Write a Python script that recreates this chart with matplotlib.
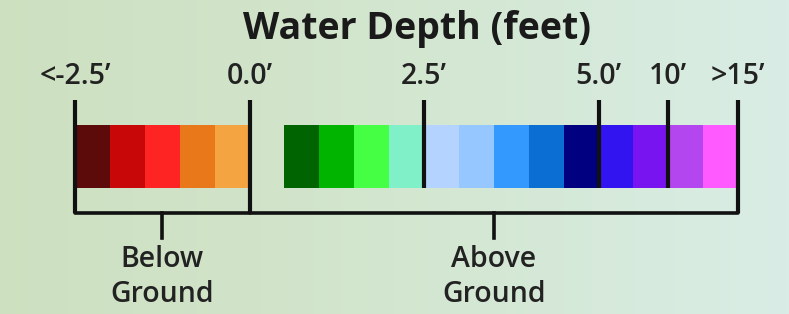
import numpy as np
import matplotlib.pyplot as plt
from matplotlib.colors import LinearSegmentedColormap

# colour bins of the legend, in slot units (one slot per colour)
below_colors = ['#5c0a0a', '#c80808', '#ff2424', '#e8781a', '#f5a442']
above_colors = ['#006400', '#00b400', '#44ff44', '#7ff0c8',
                '#b4d4ff', '#96c8ff', '#3399ff', '#0a6ed2', '#000080',
                '#3214f0', '#7814f0', '#b446f0', '#ff5aff']
below_start = 0
above_start = 6          # one empty slot after 0.0'

tick_slots = [0, 5, 10, 15, 17, 19]
tick_labels = ["<-2.5\u2019", "0.0\u2019", "2.5\u2019", "5.0\u2019", "10\u2019", ">15\u2019"]
long_ticks = [0, 5, 19]          # these ones run down into the brackets

groups = [("Below\nGround", 0, 5), ("Above\nGround", 5, 19)]
title = "Water Depth (feet)"

plt.rcParams['font.family'] = ['Open Sans', 'DejaVu Sans']

fig = plt.figure(figsize=(7.89, 3.14), dpi=100)
ax = fig.add_axes([0, 0, 1, 1])
slot_px = 34.9
x0_px = 75
ax.set_xlim(-x0_px / slot_px, (789 - x0_px) / slot_px)
ax.set_ylim(314, 0)
ax.axis('off')

# background gradient
bg = LinearSegmentedColormap.from_list('bg', ['#cde0c0', '#d3e6cf', '#d9ede6'])
grad = np.linspace(0, 1, 256).reshape(1, -1)
ax.imshow(grad, cmap=bg, aspect='auto', extent=[*ax.get_xlim(), 314, 0], zorder=0)

bar_top, bar_bot = 125, 188
for i, c in enumerate(below_colors):
    ax.bar(below_start + i, bar_bot - bar_top, width=1, bottom=bar_top,
           align='edge', color=c, zorder=2)
for i, c in enumerate(above_colors):
    ax.bar(above_start + i, bar_bot - bar_top, width=1, bottom=bar_top,
           align='edge', color=c, zorder=2)

tick_top, brace_y, stem_y = 100, 213, 238
for s in tick_slots:
    yb = brace_y if s in long_ticks else bar_bot
    ax.plot([s, s], [tick_top, yb], color='#111111', lw=3, zorder=3,
            solid_capstyle='butt')

for lab, s in zip(tick_labels, tick_slots):
    ax.text(s, 76, lab, ha='center', va='center', fontsize=20.5,
            color='#222222', fontweight='semibold')

for txt, a, b in groups:
    ax.plot([a, b], [brace_y, brace_y], color='#111111', lw=2.6, zorder=3,
            solid_capstyle='round')
    mid = (a + b) / 2
    ax.plot([mid, mid], [brace_y, stem_y], color='#111111', lw=2.6, zorder=3)
    ax.text(mid, 277, txt, ha='center', va='center', fontsize=20.5,
            color='#222222', fontweight='semibold', linespacing=1.3)

ax.text(9.8, 29, title, ha='center', va='center', fontsize=27,
        fontweight='bold', color='#1a1a1a')

fig.savefig('out.png', dpi=100)
